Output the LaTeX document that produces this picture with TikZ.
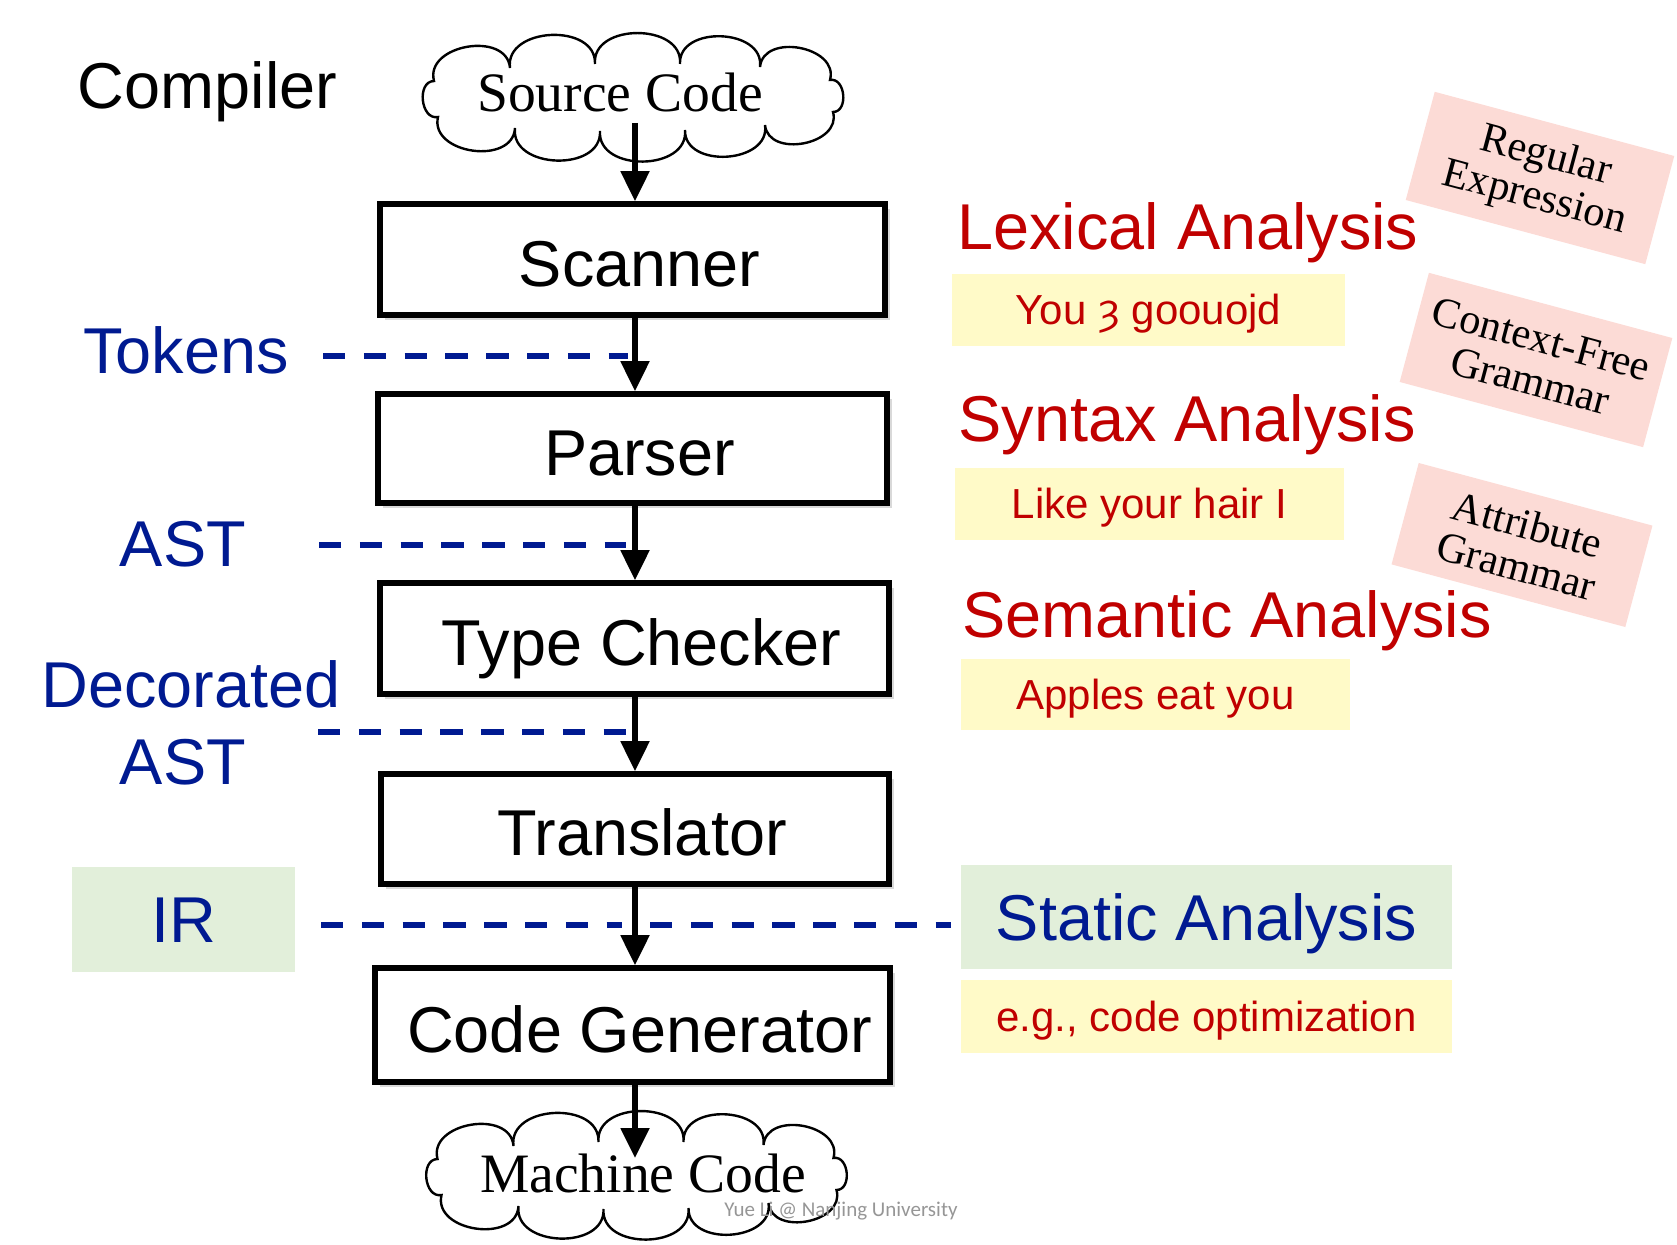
\documentclass[tikz,border=0pt]{standalone}
\usepackage{fontspec}
\setmainfont{Liberation Sans}
\newfontfamily\timesf{Liberation Serif}
\newfontfamily\calibf{Carlito}
\newfontfamily\djvf{DejaVu Sans}
\usetikzlibrary{shadows,arrows.meta,calc}
\definecolor{dblue}{RGB}{0,26,145}
\definecolor{dred}{RGB}{192,0,0}
\definecolor{yfill}{RGB}{255,250,200}
\definecolor{gfill}{RGB}{226,239,218}
\definecolor{pfill}{RGB}{252,219,214}
\definecolor{ftgray}{RGB}{150,150,150}
\begin{document}
\begin{tikzpicture}[x=0.5pt,y=-0.5pt,
  big/.style={font=\fontsize{32.4}{38}\selectfont},
  stage/.style={draw, line width=2.8pt, fill=white, big, text height=27pt, text depth=0pt,
    inner sep=0pt, execute at begin node={\hspace*{7pt}},
    drop shadow={opacity=0.3, shadow xshift=2.5pt, shadow yshift=-2.5pt}},
  arr/.style={line width=2.6pt, -{Triangle[width=14pt,length=15pt]}},
  dline/.style={draw=dblue, line width=2.6pt, dash pattern=on 11.2pt off 9.2pt},
  lbl/.style={text=dblue, big, inner sep=0pt, anchor=base},
  head/.style={text=dred, big, inner sep=0pt, anchor=base west},
  ybox/.style={fill=yfill, inner sep=0pt, text=dred, font=\fontsize{21}{25}\selectfont, text height=15pt, text depth=0pt},
  gbox/.style={fill=gfill, inner sep=0pt, text=dblue, big, text height=23.2pt, text depth=0pt},
  pbox/.style={fill=pfill, rotate=-15, inner sep=0pt, align=center, font=\timesf\fontsize{21.2}{21.5}\selectfont},
  cloudtxt/.style={anchor=base, inner sep=0pt, font=\timesf\fontsize{27.8}{32}\selectfont},
  puff/.style={bend right=95, looseness=1.25},
  pics/pcloud/.style={code={
    \draw[line width=1.2pt, fill=white]
      (200,-17) to[puff] (130,-30) to[puff] (50,-33) to[puff] (-35,-33)
      to[puff] (-120,-29) to[puff] (-196,-16) to[puff] (-192,20)
      to[puff] (-115,31) to[puff] (-30,34) to[puff] (55,33)
      to[puff] (135,28) to[puff] (203,15) to[puff] (200,-17) -- cycle;
  }}
]
\useasboundingbox (0,0) rectangle (1677,1245);

% axis of the pipeline
\coordinate (axis) at (635,0);

% clouds
\pic (src) at (630,97) {pcloud};
\node[cloudtxt] (srctxt) at (620,112) {Source Code};
\pic (mc) at (633.5,1175) {pcloud};
\node[cloudtxt] (mctxt) at (643,1192) {Machine Code};

% title
\node[anchor=base, big, inner sep=0pt] (compiler) at (207.5,109) {Compiler};

% dashed separators
\coordinate (tokL) at (323,356); \coordinate (tokR) at (628,356);
\coordinate (astL) at (319,545); \coordinate (astR) at (626,545);
\coordinate (decL) at (318,732); \coordinate (decR) at (626,732);
\coordinate (irL) at (321,925); \coordinate (irM1) at (622,925);
\coordinate (irM2) at (650,925); \coordinate (irR) at (951,925);
\draw[dline] (tokL) -- (tokR);
\draw[dline] (astL) -- (astR);
\draw[dline] (decL) -- (decR);
\draw[dline] (irL) -- (irM1);
\draw[dline] (irM2) -- (irR);

% stages
\node[stage, minimum width=252.5pt, minimum height=55.5pt] (scanner) at (632.5,259.5) {Scanner};
\node[stage, minimum width=254.5pt, minimum height=54.5pt] (parser) at (632.5,448.5) {Parser};
\node[stage, minimum width=254.5pt, minimum height=55.5pt] (checker) at (634.5,638.5) {Type Checker};
\node[stage, minimum width=254pt, minimum height=55pt] (translator) at (635,829) {Translator};
\node[stage, minimum width=257.5pt, minimum height=57pt] (codegen) at (632.5,1025) {Code Generator};

% arrows
\coordinate (srcout) at (635,123);
\coordinate (mcin) at (635,1158);
\draw[arr] (srcout) -- (scanner.north -| axis);
\draw[arr] (scanner.south -| axis) -- (parser.north -| axis);
\draw[arr] (parser.south -| axis) -- (checker.north -| axis);
\draw[arr] (checker.south -| axis) -- (translator.north -| axis);
\draw[arr] (translator.south -| axis) -- (codegen.north -| axis);
\draw[arr] (codegen.south -| axis) -- (mcin);

% left labels
\node[lbl] (tokens) at (186,374) {Tokens};
\node[lbl] (ast) at (183,567) {AST};
\node[lbl] (dec) at (191,708) {Decorated};
\node[lbl] (ast2) at (183,784) {AST};
\node[gbox, minimum width=111.5pt, minimum height=52.5pt] (ir) at (183.5,919.5) {IR};

% right side
\node[head] (lex) at (957,250) {Lexical Analysis};
\node[ybox, minimum width=196.5pt, minimum height=36pt] (y1) at (1148.5,310) {You {\djvf ȝ} goouojd};
\node[head] (syn) at (958,442) {Syntax Analysis};
\node[ybox, minimum width=194.5pt, minimum height=36pt] (y2) at (1149.5,504) {Like your hair I};
\node[head] (sem) at (962,638) {Semantic Analysis};
\node[ybox, minimum width=194.5pt, minimum height=35.5pt] (y3) at (1155.5,694.5) {Apples eat you};
\node[gbox, minimum width=245.5pt, minimum height=52pt] (static) at (1206.5,917) {Static Analysis};
\node[ybox, minimum width=245.5pt, minimum height=36.5pt] (y4) at (1206.5,1016.5) {e.g., code optimization};

% rotated pink notes
\node[pbox, minimum width=124pt, minimum height=56pt] (re) at (1540,178) {Regular\\Expression};
\node[pbox, minimum width=126pt, minimum height=56.5pt] (cfg) at (1536,360) {Context-Free\\Grammar};
\node[pbox, minimum width=121pt, minimum height=52.5pt] (ag) at (1522,545) {Attribute\\Grammar};

% footer
\node[anchor=base west, inner sep=0pt, text=ftgray, font=\calibf\fontsize{10.5}{12}\selectfont] (credit) at (724,1216) {Yue Li @ Nanjing University};
\end{tikzpicture}
\end{document}
